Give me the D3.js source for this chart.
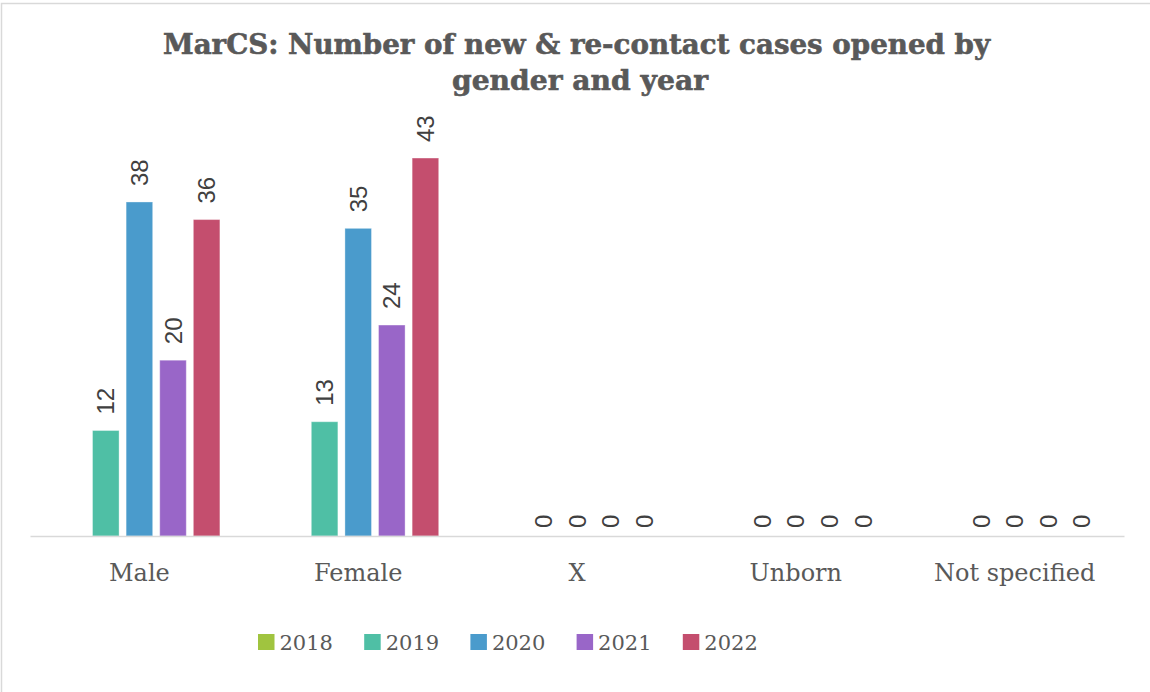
<!DOCTYPE html>
<html>
<head>
<meta charset="utf-8">
<script src="https://cdn.jsdelivr.net/npm/d3@7"></script>
<style>
  body { margin: 0; background: #fff; }
  svg { display: block; }
</style>
</head>
<body>
<div id="chart"></div>
<script>
// data
const categories = ['Male', 'Female', 'X', 'Unborn', 'Not specified'];
const years = ['2018', '2019', '2020', '2021', '2022'];
const values2018 = [null, null, null, null, null];
const values2019 = [12, 13, 0, 0, 0];
const values2020 = [38, 35, 0, 0, 0];
const values2021 = [20, 24, 0, 0, 0];
const values2022 = [36, 43, 0, 0, 0];
const colors = ['#a0c43f', '#4fbfa5', '#4a9bcc', '#9966c8', '#c44e6e'];
const titleLines = ['MarCS: Number of new & re-contact cases opened by', 'gender and year'];

const seriesValues = [values2018, values2019, values2020, values2021, values2022];

// flatten into rows
const rows = [];
years.forEach((yr, i) => {
  categories.forEach((cat, j) => {
    rows.push({year: yr, cat: cat, value: seriesValues[i][j], color: colors[i]});
  });
});

const width = 1150;
const height = 692;

const svg = d3.select('#chart')
  .append('svg')
  .attr('width', width)
  .attr('height', height);

svg.append('rect')
  .attr('width', width).attr('height', height)
  .attr('fill', '#fff');

// chart border
svg.append('rect')
  .attr('x', 1.5).attr('y', 3.5)
  .attr('width', width + 20).attr('height', height + 20)
  .attr('fill', 'none')
  .attr('stroke', '#d9d9d9')
  .attr('stroke-width', 1.5);

// title
svg.append('g')
  .selectAll('text')
  .data(titleLines)
  .join('text')
  .attr('x', (d, i) => i === 0 ? 163 : 452)
  .attr('y', (d, i) => i === 0 ? 53.5 : 90)
  .attr('textLength', (d, i) => i === 0 ? 827 : 256)
  .attr('lengthAdjust', 'spacingAndGlyphs')
  .style('font-family', '"DejaVu Serif", serif')
  .style('font-weight', 'bold')
  .style('font-size', '28px')
  .style('fill', '#595959')
  .style('stroke', '#595959')
  .style('stroke-width', 0.6)
  .text(d => d);

// scales
const x0 = d3.scaleBand()
  .domain(categories)
  .range([30, 1124])
  .padding(0);

const x1 = d3.scaleBand()
  .domain(years)
  .range([0, x0.bandwidth()])
  .paddingInner(0.21)
  .paddingOuter(0.86);

const y = d3.scaleLinear()
  .domain([0, 50])
  .range([536, 96.5]);

// bars
svg.append('g')
  .selectAll('rect')
  .data(rows.filter(d => d.value !== null && d.value > 0))
  .join('rect')
  .attr('x', d => x0(d.cat) + x1(d.year))
  .attr('y', d => y(d.value))
  .attr('width', x1.bandwidth())
  .attr('height', d => y(0) - y(d.value))
  .attr('fill', d => d.color)
  .attr('stroke', '#fff')
  .attr('stroke-opacity', 0.35)
  .attr('stroke-width', 1);

// axis
const xAxis = svg.append('g')
  .attr('transform', `translate(0, ${y(0)})`)
  .call(d3.axisBottom(x0).tickSize(0).tickSizeOuter(0).tickPadding(28));

xAxis.select('.domain')
  .attr('stroke', '#d9d9d9')
  .attr('stroke-width', 1.5);

xAxis.selectAll('text')
  .style('font-family', '"DejaVu Serif", serif')
  .style('font-size', '24px')
  .style('fill', '#595959');

// data labels
svg.append('g')
  .selectAll('text')
  .data(rows.filter(d => d.value !== null))
  .join('text')
  .attr('transform', d => {
    const cx = x0(d.cat) + x1(d.year) + x1.bandwidth() / 2;
    const off = d.value === 0 ? 8 : 16;
    return `translate(${cx}, ${y(d.value) - off}) rotate(-90)`;
  })
  .attr('dy', '0.36em')
  .style('font-family', '"Liberation Sans", Arial, sans-serif')
  .style('font-size', '24px')
  .style('fill', '#404040')
  .text(d => d.value);

// legend
const legend = svg.append('g')
  .selectAll('g')
  .data(years)
  .join('g')
  .attr('transform', (d, i) => `translate(${258 + i * 106.2}, 634)`);

legend.append('rect')
  .attr('width', 16.5)
  .attr('height', 16)
  .attr('fill', (d, i) => colors[i]);

legend.append('text')
  .attr('x', 21.5)
  .attr('y', 16)
  .style('font-family', '"DejaVu Serif", serif')
  .style('font-size', '21px')
  .style('fill', '#595959')
  .text(d => d);
</script>
</body>
</html>
